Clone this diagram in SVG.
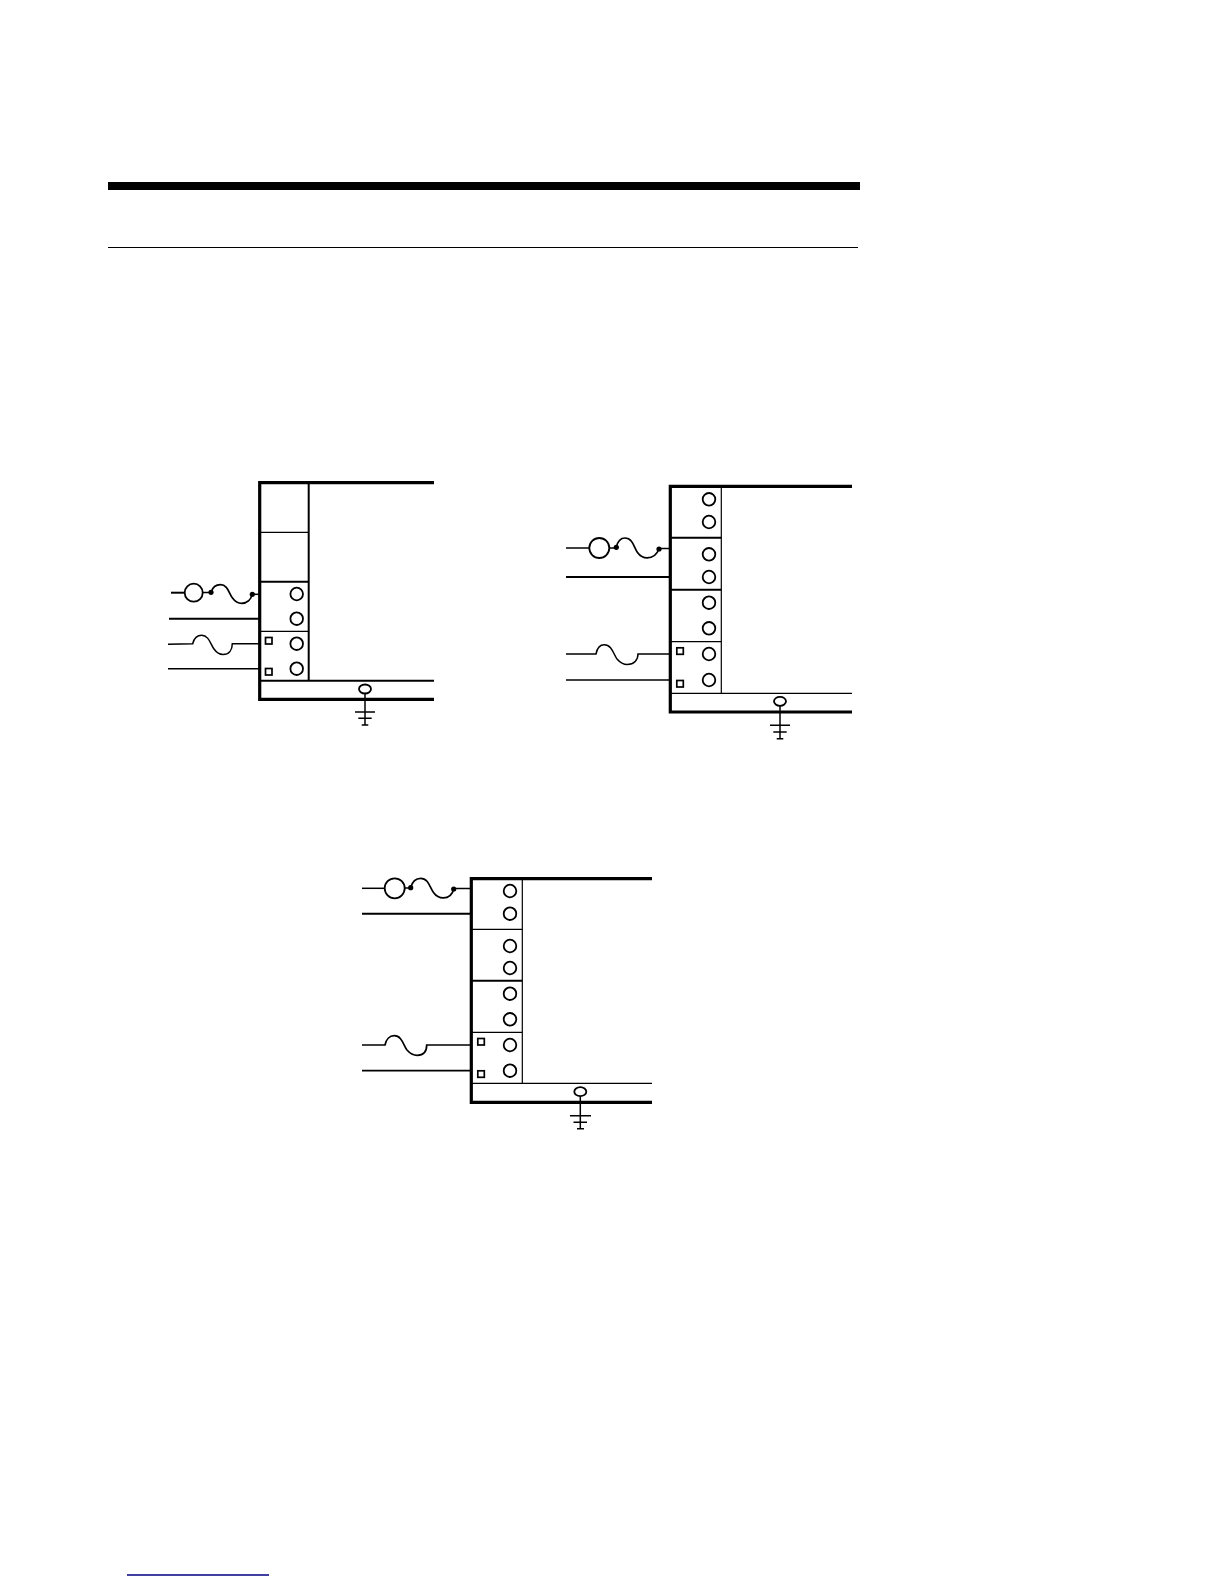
<svg xmlns="http://www.w3.org/2000/svg" width="1224" height="1584" viewBox="0 0 1224 1584">
<defs><style>
.t{fill:none;stroke:#000;stroke-width:3.2}
.m{fill:none;stroke:#000;stroke-width:2}
.s{fill:none;stroke:#000;stroke-width:1.2}
.w{fill:none;stroke:#000;stroke-width:1.5}
.h{fill:none;stroke:#000;stroke-width:1.7}
.g{fill:none;stroke:#000;stroke-width:1.4}
.c{fill:#fff;stroke:#000;stroke-width:1.8}
.q{fill:#fff;stroke:#000;stroke-width:1.7}
.d{fill:#000}
</style></defs>
<rect width="1224" height="1584" fill="#fff"/>
<g id="page-rules">
<rect x="108" y="182" width="752" height="8" fill="#000"/>
<line x1="108" y1="247.500" x2="858" y2="247.500" class="s"/>
<line x1="127" y1="1575" x2="269" y2="1575" stroke="#000080" stroke-width="1.600"/>
</g>
<g id="connectors">
<g id="wires-a">
<path class="m" d="M171 592.700H185"/><circle class="c" cx="193.700" cy="592.700" r="9"/><path class="w" d="M202.700 592.500H211"/>
<path class="h" d="M211 592.300C212.500 587.500 216 584.700 220.500 584.700C228 584.700 229 594 232.500 598C235 601.500 238 603.300 241.700 603.300C247 603.300 251 599.500 252.300 594.300"/>
<path class="w" d="M252.300 594.300H259"/>
<circle class="d" cx="211" cy="592.300" r="2.600"/><circle class="d" cx="252.300" cy="594.300" r="2.600"/>
<path class="m" d="M169 618.700H259"/>
<path class="w" d="M168 644.300L192.700 643.700C194 638.500 197.500 635.300 201.700 635.300C209 635.300 210.500 644.500 214 649C216.500 652.500 219.500 654.500 223 654.500C229 654.500 232.300 650 232.300 643.700H259"/>
<path class="w" d="M168 668.700H259"/>
<path class="w" d="M365 693.500V725"/><path class="g" d="M355 712H375M358.300 718.300H371.700M361.700 725H368.300"/>
</g>
<g id="wires-b">
<path class="w" d="M566 548H589"/><circle class="c" cx="599.300" cy="548" r="10"/><path class="w" d="M609.300 548H616.300"/>
<path class="h" d="M616.300 547.300C617.500 542 620.500 538 625 538C633 538 634 548 637.500 552.500C640 556 643.500 557.900 647.300 557.900C653 557.900 657 554 659 549"/>
<path class="w" d="M659 548.500H670"/>
<circle class="d" cx="616.300" cy="547.300" r="2.600"/><circle class="d" cx="659" cy="549" r="2.600"/>
<path class="m" d="M566 577H670"/>
<path class="w" d="M566 654H596C597 648.500 600 644.700 604.300 644.700C612 644.700 613.500 654.500 617 659C620 662.500 623.500 664.500 627.300 664.500C634 664.500 638 660 638 654H670"/>
<path class="w" d="M566 680H670"/>
<path class="w" d="M780 706V739"/><path class="g" d="M770 725.300H790M773.300 732H786.700M776.700 738.700H783.300"/>
</g>
<g id="wires-c">
<path class="w" d="M362 888.300H385"/><circle class="c" cx="394.700" cy="888.300" r="10"/><path class="w" d="M404.700 888H410.700"/>
<path class="h" d="M410.700 887.700C412 882.500 415.500 878.300 420.700 878.300C428.500 878.300 430 888 433.500 892.500C436 896 439.500 897.900 443.300 897.900C449 897.900 452.500 894 453.700 889"/>
<path class="w" d="M453.700 888.500H471"/>
<circle class="d" cx="410.700" cy="887.700" r="2.600"/><circle class="d" cx="453.700" cy="889" r="2.600"/>
<path class="m" d="M362 913.700H471"/>
<path class="h" d="M362 1045H385C386 1039.500 389.500 1035.700 394.300 1035.700C402 1035.700 403.500 1045.500 407 1050C410 1053.500 413.500 1055.300 417.300 1055.300C424 1055.300 426.700 1051 426.700 1045H471"/>
<path class="h" d="M362 1070.700H471"/>
<path class="w" d="M580.300 1096V1129"/><path class="g" d="M570 1115.700H591M573.500 1122.300H587M577 1128.700H584"/>
</g>
</g>
<g id="panel-a">
<path class="t" d="M434 482.700H259.700V699.300H434"/>
<path class="m" d="M308.700 482.700V680.700M259.700 581.700H308.700M259.700 680.700H434"/>
<path class="s" d="M259.700 532.300H308.700M259.700 631.300H308.700"/>
<circle class="c" cx="296.700" cy="594" r="6.300"/><circle class="c" cx="296.700" cy="618.700" r="6.300"/><circle class="c" cx="296.700" cy="643.700" r="6.300"/><circle class="c" cx="296.700" cy="668.700" r="6.300"/>
<rect class="q" x="265.500" y="637.500" width="6.500" height="6.500"/><rect class="q" x="265.500" y="668.500" width="6.500" height="6.500"/>
<ellipse class="c" cx="365" cy="689" rx="6" ry="4.500"/>
</g>
<g id="panel-b">
<path class="t" d="M852 486.300H670.300V712H852"/>
<path class="s" d="M721.300 486.300V693.300M670.300 641.700H721.300M670.300 693.300H852"/>
<path class="m" d="M670.300 537.700H721.300M670.300 589.700H721.300"/>
<circle class="c" cx="709" cy="499.300" r="6.300"/><circle class="c" cx="709" cy="522" r="6.300"/><circle class="c" cx="709" cy="554.300" r="6.300"/><circle class="c" cx="709" cy="577" r="6.300"/><circle class="c" cx="709" cy="602.700" r="6.300"/><circle class="c" cx="709" cy="628.300" r="6.300"/><circle class="c" cx="709" cy="654" r="6.300"/><circle class="c" cx="709" cy="680" r="6.300"/>
<rect class="q" x="676.800" y="647.800" width="6.500" height="6.500"/><rect class="q" x="676.800" y="680.500" width="6.500" height="6.500"/>
<ellipse class="c" cx="780" cy="701.300" rx="6" ry="4.500"/>
</g>
<g id="panel-c">
<path class="t" d="M652 878.700H471.300V1102.300H652"/>
<path class="s" d="M522.300 878.700V1083.300M471.300 929.300H522.300M471.300 1032.300H522.300M471.300 1083.300H652"/>
<path class="m" d="M471.300 980.700H522.300"/>
<circle class="c" cx="510" cy="891" r="6.300"/><circle class="c" cx="510" cy="913.700" r="6.300"/><circle class="c" cx="510" cy="946" r="6.300"/><circle class="c" cx="510" cy="968" r="6.300"/><circle class="c" cx="510" cy="993.700" r="6.300"/><circle class="c" cx="510" cy="1019.300" r="6.300"/><circle class="c" cx="510" cy="1045" r="6.300"/><circle class="c" cx="510" cy="1070.700" r="6.300"/>
<rect class="q" x="477.800" y="1038.500" width="6.500" height="6.500"/><rect class="q" x="477.800" y="1070.800" width="6.500" height="6.500"/>
<ellipse class="c" cx="580.300" cy="1091.700" rx="6" ry="4.500"/>
</g>
</svg>
